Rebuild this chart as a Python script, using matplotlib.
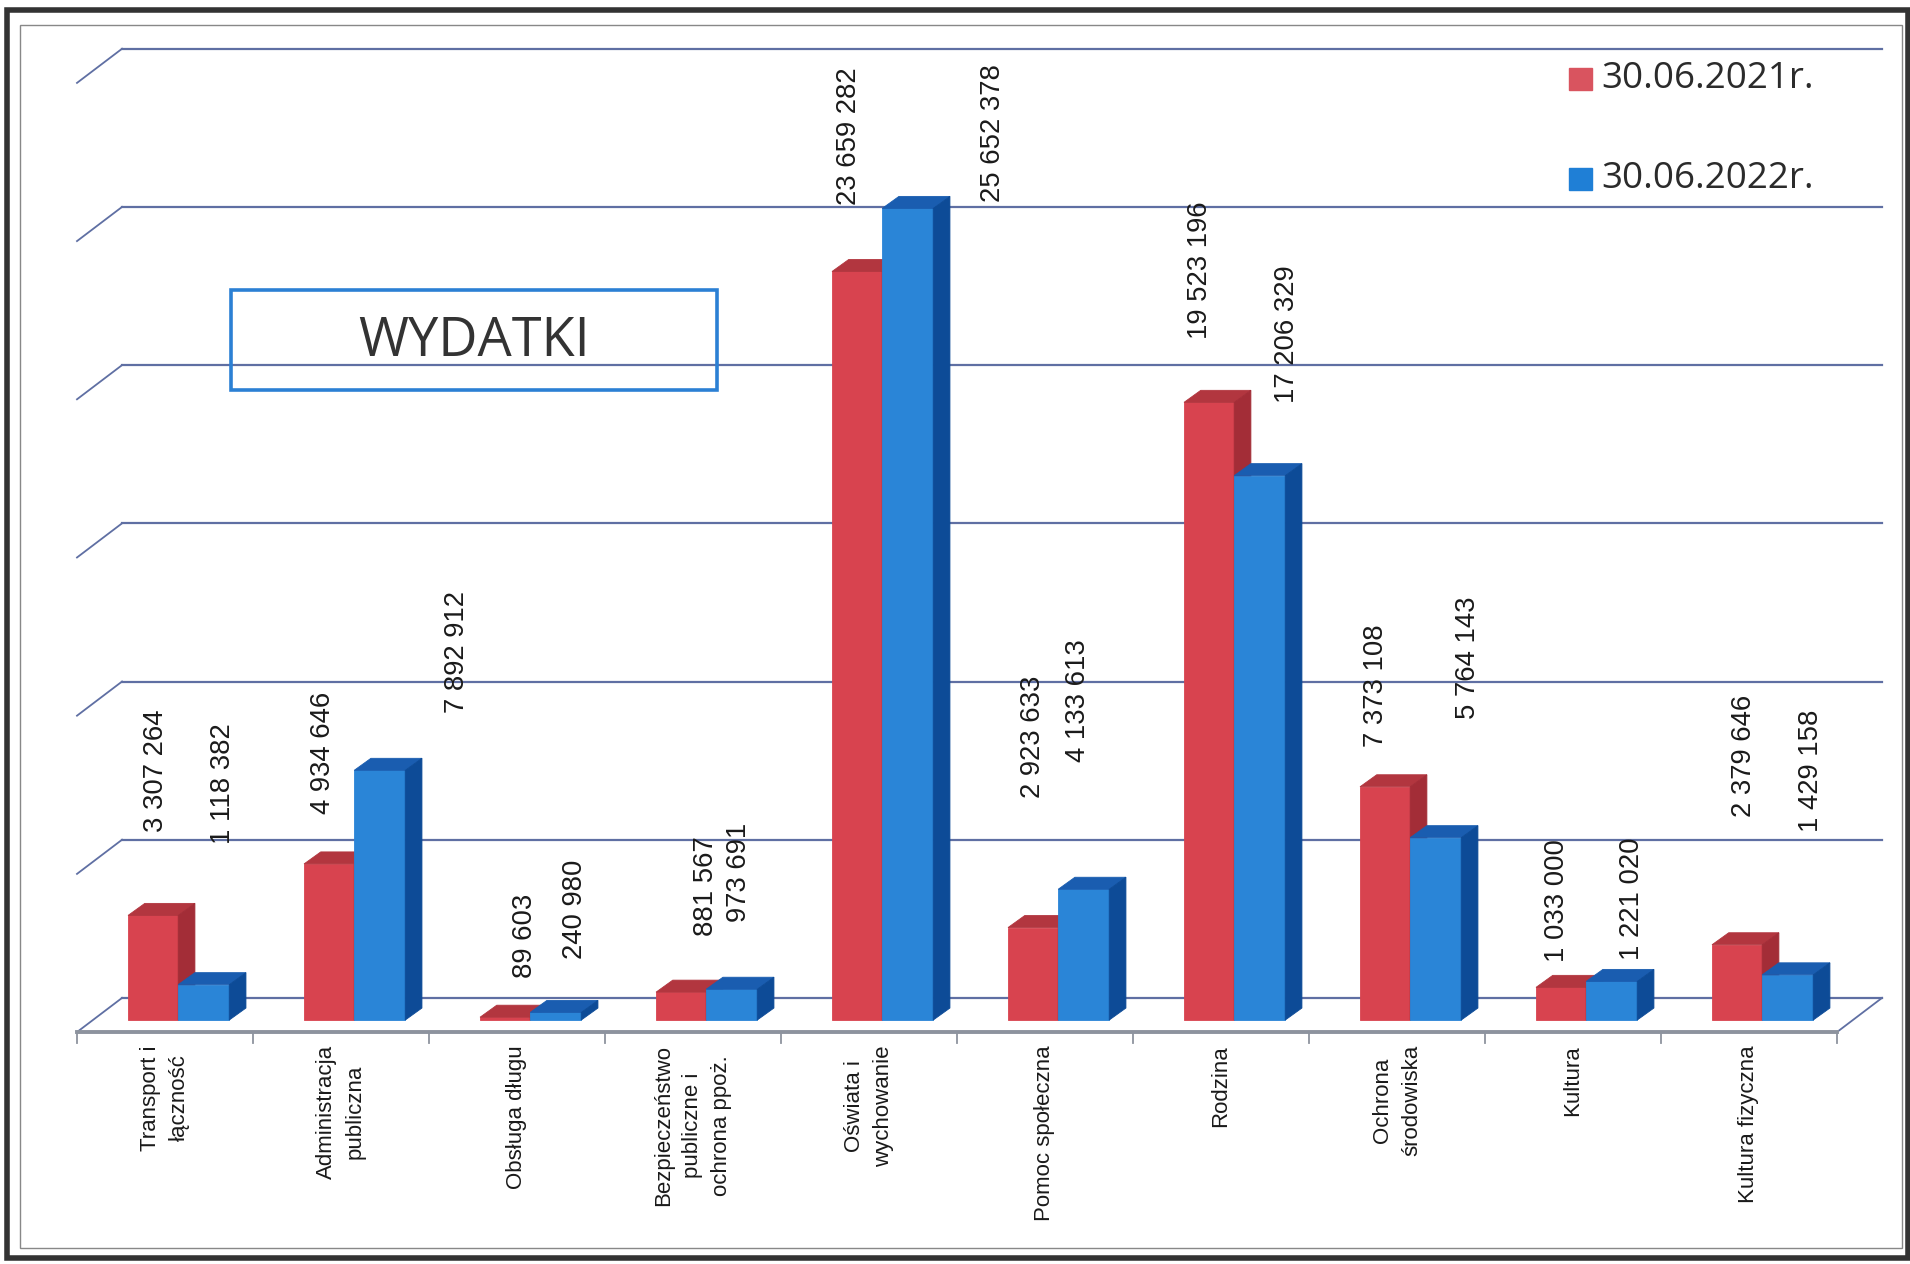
import matplotlib.pyplot as plt
from matplotlib.patches import Rectangle

# dane
categories = ['Transport i\nłączność', 'Administracja\npubliczna', 'Obsługa długu',
              'Bezpieczeństwo\npubliczne i\nochrona ppoż.', 'Oświata i\nwychowanie',
              'Pomoc społeczna', 'Rodzina', 'Ochrona\nśrodowiska', 'Kultura', 'Kultura fizyczna']
v2021 = [3307264, 4934646, 89603, 881567, 23659282, 2923633, 19523196, 7373108, 1033000, 2379646]
v2022 = [1118382, 7892912, 240980, 973691, 25652378, 4133613, 17206329, 5764143, 1221020, 1429158]
series = ['30.06.2021r.', '30.06.2022r.']

# where the (rotated) value labels sit - layout only
lab21_x = [-0.05, 0.90, 2.045, 3.076, 3.886, 4.931, 5.879, 6.882, 7.907, 8.973]
lab21_y = [5.93e6, 6.51e6, 1.32e6, 2.67e6, 25.76e6, 7.01e6, 21.53e6, 8.62e6, 1.82e6, 6.43e6]
lab22_x = [0.329, 1.658, 2.329, 3.263, 4.703, 5.187, 6.377, 7.402, 8.336, 9.354]
lab22_y = [5.55e6, 9.70e6, 1.94e6, 3.09e6, 25.84e6, 8.16e6, 19.50e6, 9.51e6, 1.90e6, 5.93e6]

W, H = 1910, 1264
fig = plt.figure(figsize=(W / 100, H / 100), dpi=100)
ax = fig.add_axes([0, 0, 1, 1])
ax.set_xlim(-0.9375, 9.915)
ax.set_ylim(-7.71e6, 32.24e6)
ax.axis('off')

def fx(px):
    return px / W

def fy(py):
    return 1 - py / H

# 3d look
wall_dx, wall_dy = 0.256, 0.70e6
floor_front = -0.38e6
bar_dx, bar_dy = 0.095, 0.38e6
grid_col = '#5f6fa3'

for g in range(0, 35000000, 5000000):
    ax.plot([-0.5 + wall_dx, 9.5 + wall_dx], [g + wall_dy, g + wall_dy], color=grid_col, lw=1.6, zorder=1)
    ax.plot([-0.5, -0.5 + wall_dx], [g + floor_front, g + wall_dy], color=grid_col, lw=1.3, zorder=1)
ax.plot([9.5, 9.5 + wall_dx], [floor_front, wall_dy], color=grid_col, lw=1.3, zorder=1)
ax.plot([-0.5, 9.5], [floor_front, floor_front], color='#8d939e', lw=2.8, zorder=1)
for i in range(11):
    ax.plot([i - 0.5, i - 0.5], [floor_front, floor_front - 0.33e6], color='#8d939e', lw=1.3, zorder=1)

bars = [
    (v2021, -0.21, 0.285, '#d8434f', '#b2363f', '#a32d37', 3),
    (v2022, 0.075, 0.29, '#2a85d7', '#1a5db0', '#0d4b97', 4),
]
for vals, off, w, front, top, side, z in bars:
    xs = [i + off for i in range(len(vals))]
    ax.bar(xs, vals, width=w, align='edge', color=front, edgecolor=front, linewidth=0.6, zorder=z)
    for x, v in zip(xs, vals):
        ax.fill([x, x + bar_dx, x + w + bar_dx, x + w], [v, v + bar_dy, v + bar_dy, v],
                fc=top, ec=top, lw=0.6, zorder=z)
        ax.fill([x + w, x + w, x + w + bar_dx, x + w + bar_dx], [0, v, v + bar_dy, bar_dy],
                fc=side, ec=side, lw=0.6, zorder=z)

def fmt(v):
    return f'{v:,}'.replace(',', ' ')

for xs, ys, vals in [(lab21_x, lab21_y, v2021), (lab22_x, lab22_y, v2022)]:
    for x, y, v in zip(xs, ys, vals):
        ax.text(x, y, fmt(v), rotation=90, ha='center', va='bottom', fontsize=19.8,
                family='Liberation Sans', color='#1a1a1a', zorder=6)

for i, c in enumerate(categories):
    ax.text(i, -0.79e6, c, rotation=90, ha='center', va='top', multialignment='center',
            fontsize=16, family='Liberation Sans', linespacing=1.5, color='#1a1a1a')

# legenda
leg_cols = ['#d9545f', '#1f7fd6']
for k, (name, col) in enumerate(zip(series, leg_cols)):
    yc = 79 + k * 100
    fig.patches.append(Rectangle((fx(1569), fy(yc + 11)), fx(23), 22 / H, color=col,
                                 transform=fig.transFigure, figure=fig))
    fig.text(fx(1601), fy(yc), name, ha='left', va='center', fontsize=26.5,
             family='Open Sans', color='#2b2b2b')

# tytul w ramce
fig.patches.append(Rectangle((fx(231), fy(390)), fx(486), 100 / H, fill=False, ec='#2b80d4',
                             lw=2.6, transform=fig.transFigure, figure=fig))
fig.text(fx(474), fy(342), 'WYDATKI', ha='center', va='center', fontsize=39,
         family='Open Sans', color='#333333')

# ramki strony
fig.patches.append(Rectangle((fx(20), fy(1248)), fx(1882), 1223 / H, fill=False, ec='#888888',
                             lw=1.0, transform=fig.transFigure, figure=fig))
fig.patches.append(Rectangle((fx(7), fy(1258)), fx(1901), 1248 / H, fill=False, ec='#333333',
                             lw=4.0, transform=fig.transFigure, figure=fig))

fig.savefig('out.png', dpi=100)
